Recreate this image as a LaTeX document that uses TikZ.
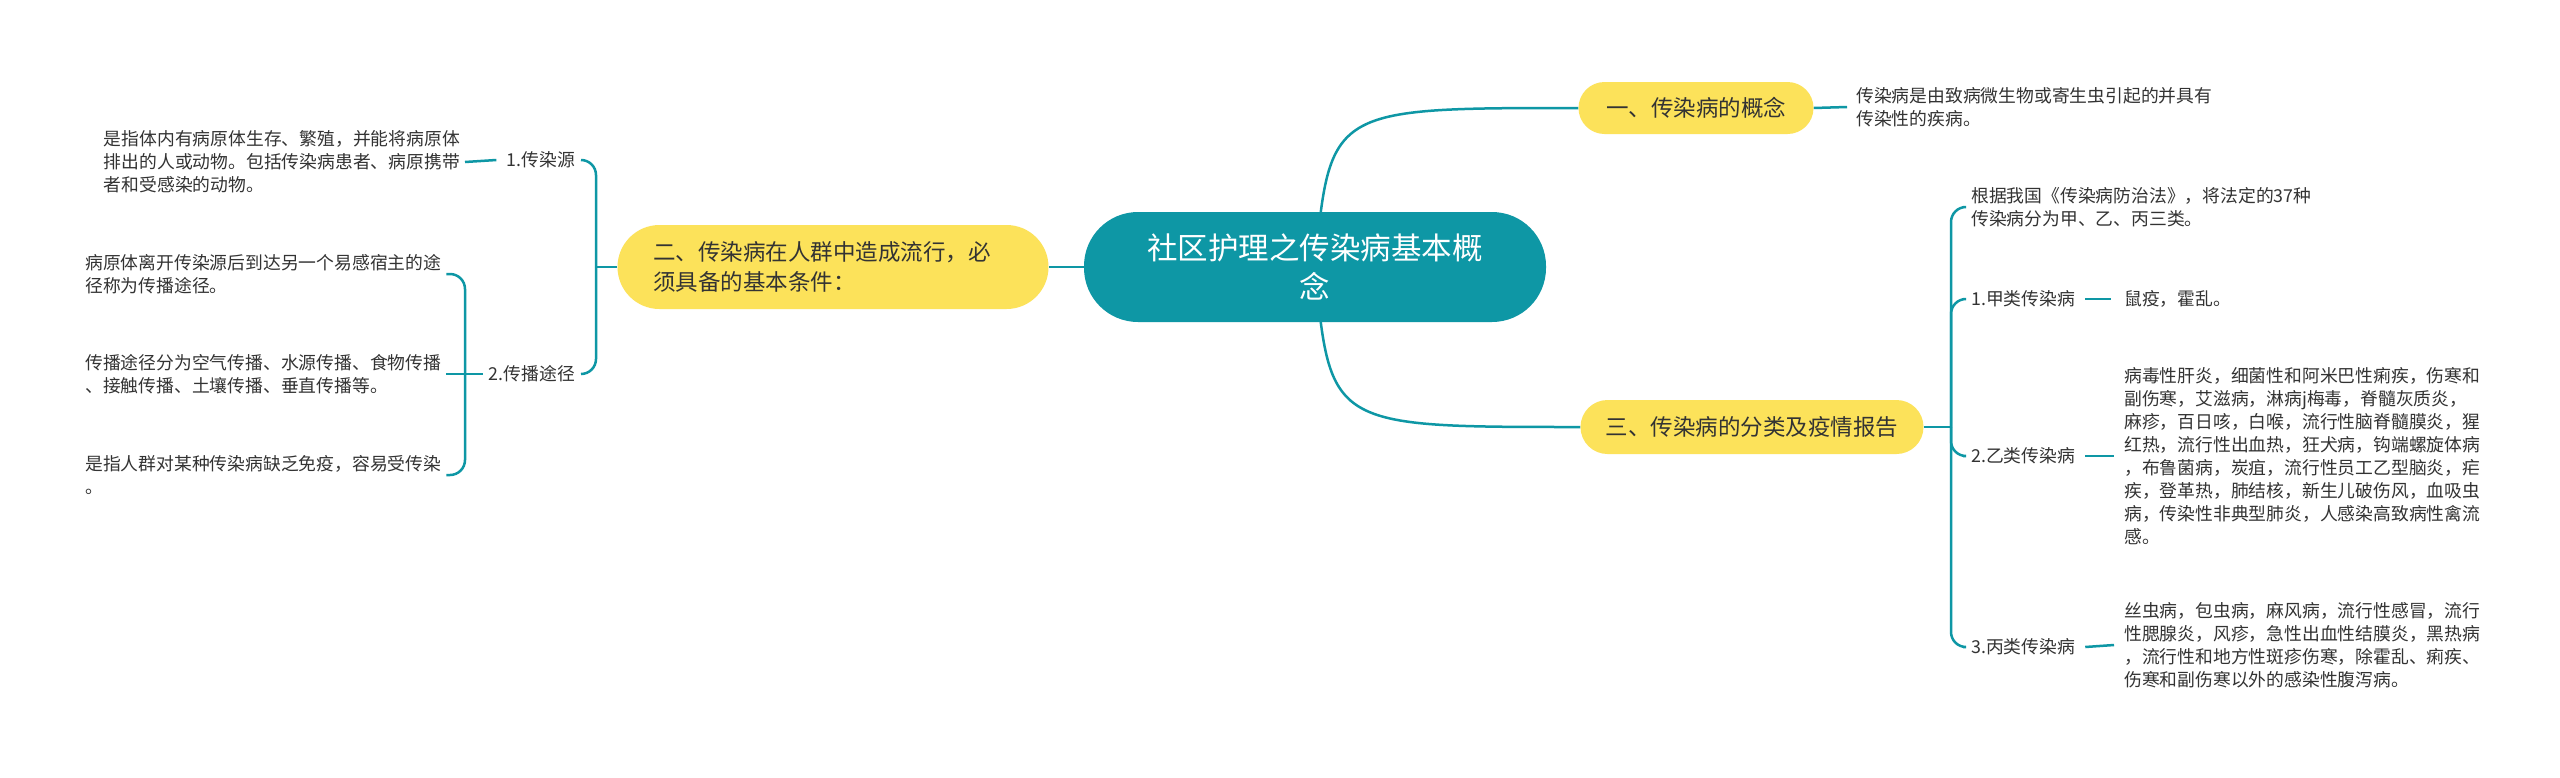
\documentclass[tikz,border=0pt]{standalone}
\usepackage{fontspec}
\setmainfont{Noto Sans CJK SC}
\usetikzlibrary{backgrounds,calc}
\definecolor{tealc}{HTML}{0E97A5}
\definecolor{yelc}{HTML}{FCE25A}
\definecolor{txtc}{HTML}{333333}
\begin{document}
\begin{tikzpicture}[x=1pt,y=-1pt,
  conn/.style={draw=tealc,line width=2.5pt},
  bracket/.style={conn,rounded corners=15pt},
  mainbox/.style={fill=tealc,text=white,rounded corners=54pt,minimum width=462pt,minimum height=110pt,align=center,font=\fontsize{30.5}{39}\selectfont,inner sep=0pt},
  topic/.style={fill=yelc,text=txtc,inner sep=0pt,align=left,font=\fontsize{22.5}{30}\selectfont},
  leaf/.style={text=txtc,inner sep=0pt,align=left,font=\fontsize{17.8}{23}\selectfont},
]
\useasboundingbox (0,0) rectangle (2560,777);

% central and topics
\node[mainbox] (c) at (1315,267) {社区护理之传染病基本概\\念};
\node[topic,minimum width=235pt,minimum height=52pt,rounded corners=26pt] (n1) at (1696,108) {一、传染病的概念};
\node[topic,minimum width=431pt,minimum height=84pt,rounded corners=42pt,text width=360pt] (n2) at (833,267) {二、传染病在人群中造成流行，必\\须具备的基本条件：};
\node[topic,minimum width=343pt,minimum height=54pt,rounded corners=27pt] (n3) at (1752,427) {三、传染病的分类及疫情报告};

% right: topic 1
\node[leaf,anchor=west] (l1) at (1856,107) {传染病是由致病微生物或寄生虫引起的并具有\\传染性的疾病。};

% left: topic 2
\node[leaf,anchor=east] (src) at (575,160) {1.传染源};
\node[leaf,anchor=east] (la) at (460,162) {是指体内有病原体生存、繁殖，并能将病原体\\排出的人或动物。包括传染病患者、病原携带\\者和受感染的动物。};
\node[leaf,anchor=east] (rt) at (575,374) {2.传播途径};
\node[leaf,anchor=west] (lb) at (85,274) {病原体离开传染源后到达另一个易感宿主的途\\径称为传播途径。};
\node[leaf,anchor=west] (lc) at (85,374) {传播途径分为空气传播、水源传播、食物传播\\、接触传播、土壤传播、垂直传播等。};
\node[leaf,anchor=west] (ld) at (85,475) {是指人群对某种传染病缺乏免疫，容易受传染\\。};

% right: topic 3
\node[leaf,anchor=west] (le) at (1971,207) {根据我国《传染病防治法》，将法定的37种\\传染病分为甲、乙、丙三类。};
\node[leaf,anchor=west] (ja) at (1971,299) {1.甲类传染病};
\node[leaf,anchor=west] (jl) at (2124,299) {鼠疫，霍乱。};
\node[leaf,anchor=west] (yi) at (1971,456) {2.乙类传染病};
\node[leaf,anchor=west] (yl) at (2124,456) {病毒性肝炎，细菌性和阿米巴性痢疾，伤寒和\\副伤寒，艾滋病，淋病j梅毒，脊髓灰质炎，\\麻疹，百日咳，白喉，流行性脑脊髓膜炎，猩\\红热，流行性出血热，狂犬病，钩端螺旋体病\\，布鲁菌病，炭疽，流行性员工乙型脑炎，疟\\疾，登革热，肺结核，新生儿破伤风，血吸虫\\病，传染性非典型肺炎，人感染高致病性禽流\\感。};
\node[leaf,anchor=west] (bi) at (1971,647) {3.丙类传染病};
\node[leaf,anchor=west] (bl) at (2124,645) {丝虫病，包虫病，麻风病，流行性感冒，流行\\性腮腺炎，风疹，急性出血性结膜炎，黑热病\\，流行性和地方性斑疹伤寒，除霍乱、痢疾、\\伤寒和副伤寒以外的感染性腹泻病。};

\coordinate (j2) at (596,267);
\coordinate (j3) at (465,374);
\coordinate (j4) at (1951,427);

\begin{scope}[on background layer]
\fill[white] (0,0) rectangle (2560,777);
\draw[conn] (c.center) .. controls (1330,108) .. (n1.west);
\draw[conn] (c.center) .. controls (1330,427) .. (n3.west);
\draw[conn] (c.west) -- (n2.east);
\draw[conn] (n1.east) -- ([xshift=-9pt]l1.west);
% left brackets
\draw[conn] (n2.west) -- (j2);
\draw[bracket] (j2) |- ([xshift=6pt]src.east);
\draw[bracket] (j2) |- ([xshift=6pt]rt.east);
\draw[conn] ([xshift=-10pt]src.west) -- ([xshift=5pt]la.east);
\draw[conn] ([xshift=-6pt]rt.west) -- ([xshift=5pt]lc.east);
\draw[bracket] (j3) |- ([xshift=5pt]lb.east);
\draw[bracket] (j3) |- ([xshift=5pt]ld.east);
% right brackets
\draw[conn] (n3.east) -- (j4);
\draw[bracket] (j4) |- ([xshift=-8pt]le.west);
\draw[bracket] (j4) |- ([xshift=-8pt]ja.west);
\draw[bracket] (j4) |- ([xshift=-8pt]yi.west);
\draw[bracket] (j4) |- ([xshift=-8pt]bi.west);
\draw[conn] ([xshift=10pt]ja.east) -- ([xshift=-13pt]jl.west);
\draw[conn] ([xshift=10pt]yi.east) -- ([xshift=-10pt]yl.west);
\draw[conn] ([xshift=10pt]bi.east) -- ([xshift=-10pt]bl.west);
\end{scope}
\end{tikzpicture}
\end{document}
